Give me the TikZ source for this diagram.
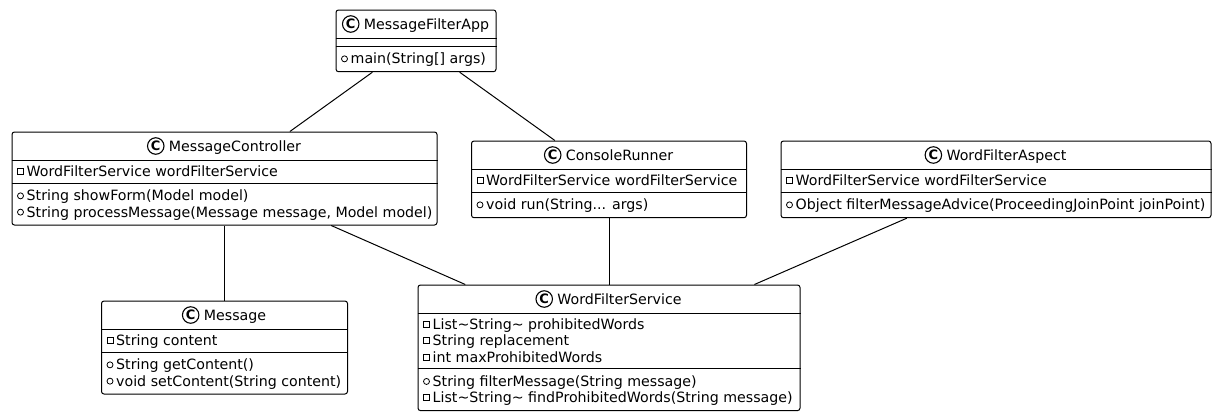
\documentclass[tikz,border=0pt]{standalone}
\usepackage{fontspec}
\setmainfont{DejaVu Sans}
\usetikzlibrary{calc}
\newcommand\fsz{\fontsize{14.2pt}{16.3pt}\selectfont}
\newcommand\spotfont{\bfseries\fontsize{13pt}{13pt}\selectfont}
% member line: name, left x, center y, kind, text
\newcommand\umlmem[5]{%
  \node[#4] (#1m) at ({#2+8.5},{#3}) {};
  \node[membertxt] (#1) at ({#2+14.5},{#3+5}) {#5};}
% title: name, center x, header center y, text
\newcommand\umltitle[4]{%
  \node[titletxt] (#1) at ({#2},{#3+5}) {\hspace{21pt}#4};
  \node[spot] (#1c) at ($(#1.base west)+(8,-5)$) {C};}
\begin{document}
\begin{tikzpicture}[x=1pt,y=-1pt,
  box/.style={draw, line width=1pt, rounded corners=2.5pt, inner sep=0pt, fill=white},
  membertxt/.style={anchor=base west, inner sep=0pt, font=\fsz},
  titletxt/.style={anchor=base, inner sep=0pt, font=\fsz},
  priv/.style={draw, rectangle, line width=0.8pt, minimum size=6pt, inner sep=0pt},
  pub/.style={draw, circle, line width=0.8pt, minimum size=6pt, inner sep=0pt},
  spot/.style={draw, circle, line width=1.1pt, minimum size=16.5pt, inner sep=0pt, font=\spotfont},
  sepline/.style={line width=1pt},
  link/.style={line width=1pt}]
\useasboundingbox (0,0) rectangle (1217,416);

% ---------- MessageFilterApp ----------
\node[box, minimum width=160pt, minimum height=61.7pt] (app) at (416,40.85) {};
\draw[sepline] (app.west |- 0,38) -- (app.east |- 0,38);
\draw[sepline] (app.west |- 0,46) -- (app.east |- 0,46);
\umltitle{appT}{416}{24}{MessageFilterApp}
\umlmem{appM1}{336}{58.85}{pub}{main(String[] args)}

% ---------- MessageController ----------
\node[box, minimum width=425pt, minimum height=93pt] (ctrl) at (224.5,178.5) {};
\draw[sepline] (ctrl.west |- 0,160) -- (ctrl.east |- 0,160);
\draw[sepline] (ctrl.west |- 0,183) -- (ctrl.east |- 0,183);
\umltitle{ctrlT}{224.5}{146}{MessageController}
\umlmem{ctrlA1}{12}{171.5}{priv}{WordFilterService wordFilterService}
\umlmem{ctrlM1}{12}{195.85}{pub}{String showForm(Model model)}
\umlmem{ctrlM2}{12}{212.15}{pub}{String processMessage(Message message, Model model)}

% ---------- ConsoleRunner ----------
\node[box, minimum width=275pt, minimum height=76.7pt] (cons) at (609,179.35) {};
\draw[sepline] (cons.west |- 0,169) -- (cons.east |- 0,169);
\draw[sepline] (cons.west |- 0,192) -- (cons.east |- 0,192);
\umltitle{consT}{609}{155}{ConsoleRunner}
\umlmem{consA1}{471.5}{180.5}{priv}{WordFilterService wordFilterService}
\umlmem{consM1}{471.5}{204.85}{pub}{void run(String... args)}

% ---------- WordFilterAspect ----------
\node[box, minimum width=430pt, minimum height=76.7pt] (asp) at (996,179.35) {};
\draw[sepline] (asp.west |- 0,169) -- (asp.east |- 0,169);
\draw[sepline] (asp.west |- 0,192) -- (asp.east |- 0,192);
\umltitle{aspT}{996}{155}{WordFilterAspect}
\umlmem{aspA1}{781}{180.5}{priv}{WordFilterService wordFilterService}
\umlmem{aspM1}{781}{204.85}{pub}{Object filterMessageAdvice(ProceedingJoinPoint joinPoint)}

% ---------- Message ----------
\node[box, minimum width=246pt, minimum height=93pt] (msg) at (224.5,347.5) {};
\draw[sepline] (msg.west |- 0,329) -- (msg.east |- 0,329);
\draw[sepline] (msg.west |- 0,352) -- (msg.east |- 0,352);
\umltitle{msgT}{224.5}{315}{Message}
\umlmem{msgA1}{101.5}{340.5}{priv}{String content}
\umlmem{msgM1}{101.5}{364.85}{pub}{String getContent()}
\umlmem{msgM2}{101.5}{381.15}{pub}{void setContent(String content)}

% ---------- WordFilterService ----------
\node[box, minimum width=382pt, minimum height=125.6pt] (wfs) at (609,347.8) {};
\draw[sepline] (wfs.west |- 0,313) -- (wfs.east |- 0,313);
\draw[sepline] (wfs.west |- 0,368.6) -- (wfs.east |- 0,368.6);
\umltitle{wfsT}{609}{299}{WordFilterService}
\umlmem{wfsA1}{418}{324.5}{priv}{List\textasciitilde String\textasciitilde{} prohibitedWords}
\umlmem{wfsA2}{418}{340.8}{priv}{String replacement}
\umlmem{wfsA3}{418}{357.1}{priv}{int maxProhibitedWords}
\umlmem{wfsM1}{418}{381.45}{pub}{String filterMessage(String message)}
\umlmem{wfsM2}{418}{397.75}{priv}{List\textasciitilde String\textasciitilde{} findProhibitedWords(String message)}

% ---------- connectors ----------
\draw[link] (app) -- (ctrl);
\draw[link] (app) -- (cons);
\draw[link] (ctrl) -- (msg);
\draw[link] (ctrl) -- (wfs);
\draw[link] (cons) -- (wfs);
\draw[link] (asp) -- (wfs);
\end{tikzpicture}
\end{document}
